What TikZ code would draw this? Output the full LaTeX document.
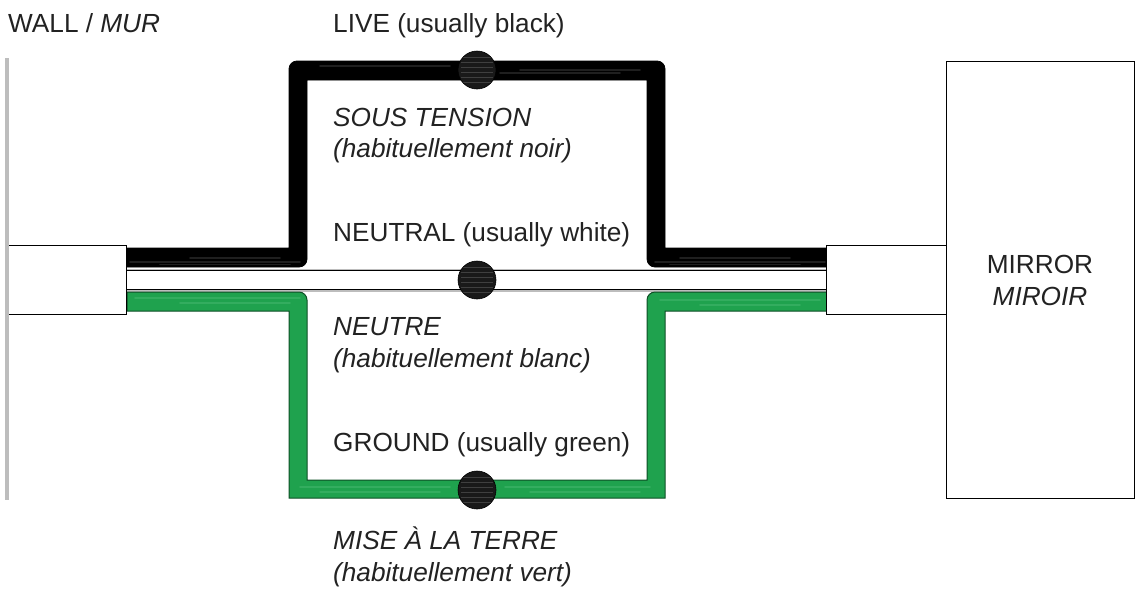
\documentclass[tikz,border=0pt]{standalone}
\usepackage{fontspec}
\setmainfont{Liberation Sans}
\definecolor{wiregreen}{HTML}{1FA24E}
\definecolor{greenlight}{HTML}{4DBB74}
\definecolor{greendark}{HTML}{0E4F26}
\definecolor{walgrey}{HTML}{BDBDBD}
\definecolor{inktext}{HTML}{222222}
\tikzset{
  lab/.style={anchor=base west,inner sep=0pt,text=inktext,font=\fontsize{26.2}{31}\selectfont},
  cablebox/.style={draw=black,line width=0.9pt,fill=white,minimum width=119.5pt,minimum height=69pt,inner sep=0pt},
  mirrorbox/.style={draw=black,line width=0.9pt,fill=white,minimum width=188pt,minimum height=437pt,inner sep=0pt},
  blackwire/.style={draw=black,fill=black,line width=0.8pt},
  greenwire/.style={draw=greendark,fill=wiregreen,line width=1pt},
  whitewire/.style={draw=black,line width=0.9pt},
  hilite/.style={line width=1.6pt,line cap=round},
  joint/.style={circle,fill=black!90,draw=black,line width=.6pt,minimum size=38pt,inner sep=0pt,
    path picture={
      \foreach \yy in {-12,-7,-2,3,8,13}
        \draw[black!60,line width=.7pt,opacity=.5] ([xshift=-16pt,yshift=\yy pt]path picture bounding box.center) -- ([xshift=16pt,yshift=\yy pt]path picture bounding box.center);
    }},
}
\begin{document}
\begin{tikzpicture}[x=1pt,y=-1pt]
\useasboundingbox (0,0) rectangle (1140,592);

% black (live) wire
\path[blackwire]
  (127,248) -- (289,248) [rounded corners=8pt] -- (289,61) -- (665,61) [sharp corners] -- (665,248) -- (827,248)
  -- (827,267) [rounded corners=8pt] -- (647,267) [sharp corners] -- (647,80) -- (307,80) [rounded corners=8pt] -- (307,267) [sharp corners] -- (127,267) -- cycle;
\foreach \ya/\yb/\xa/\xb in {262/262/130/300, 264.5/264.5/160/290, 258/258/190/280, 262/262/655/825, 264.5/264.5/670/800, 258/258/680/790, 70/70/520/640, 66/66/320/450, 73/73/500/620}
  \draw[white,hilite,opacity=.12] (\xa,\ya) -- (\xb,\yb);

% white (neutral) wire
\fill[walgrey] (127,268.5) rectangle (827,270);
\fill[walgrey] (127,290) rectangle (827,291.5);
\draw[whitewire] (127,270.5) -- (827,270.5);
\draw[whitewire] (127,289.5) -- (827,289.5);

% green (ground) wire
\path[greenwire]
  (127,311) -- (289,311) -- (289,498) -- (665,498) -- (665,311) -- (827,311)
  -- (827,292) [rounded corners=8pt] -- (647,292) [sharp corners] -- (647,480) -- (307,480) [rounded corners=8pt] -- (307,292) [sharp corners] -- (127,292) -- cycle;
\foreach \ya/\xa/\xb in {298/135/300, 303/180/290, 300/660/820, 305/700/800, 487/300/450, 492/320/440, 487/505/650, 492/530/640}
  \draw[greenlight,hilite,opacity=.45] (\xa,\ya) -- (\xb,\ya);

% cable ends and mirror
\node[cablebox] (lcable) at (66.75,279.5) {};
\node[cablebox] (rcable) at (886.5,279.5) {};
\node[mirrorbox] (mirror) at (1040,279.5) {};

% wall
\fill[walgrey] (5,58) rectangle (9,500);

% joints
\node[joint] (jlive) at (477,70) {};
\node[joint] (jneutral) at (477,280) {};
\node[joint] (jground) at (477,490) {};

% labels
\node[lab] (wall) at (8,32) {WALL / \textit{MUR}};
\node[lab] (live) at (333,32) {LIVE (usually black)};
\node[lab] (sous) at (333,126) {\textit{SOUS TENSION}};
\node[lab] (noir) at (333,157) {\textit{(habituellement noir)}};
\node[lab] (neutral) at (333,241) {NEUTRAL (usually white)};
\node[lab] (neutre) at (333,335) {\textit{NEUTRE}};
\node[lab] (blanc) at (333,367) {\textit{(habituellement blanc)}};
\node[lab] (ground) at (333,451) {GROUND (usually green)};
\node[lab] (mise) at (333,549) {\textit{MISE À LA TERRE}};
\node[lab] (vert) at (333,581) {\textit{(habituellement vert)}};
\node[lab,anchor=base] (mirrortxt) at (1040,273) {MIRROR};
\node[lab,anchor=base] (miroirtxt) at (1040,305) {\textit{MIROIR}};
\end{tikzpicture}
\end{document}
